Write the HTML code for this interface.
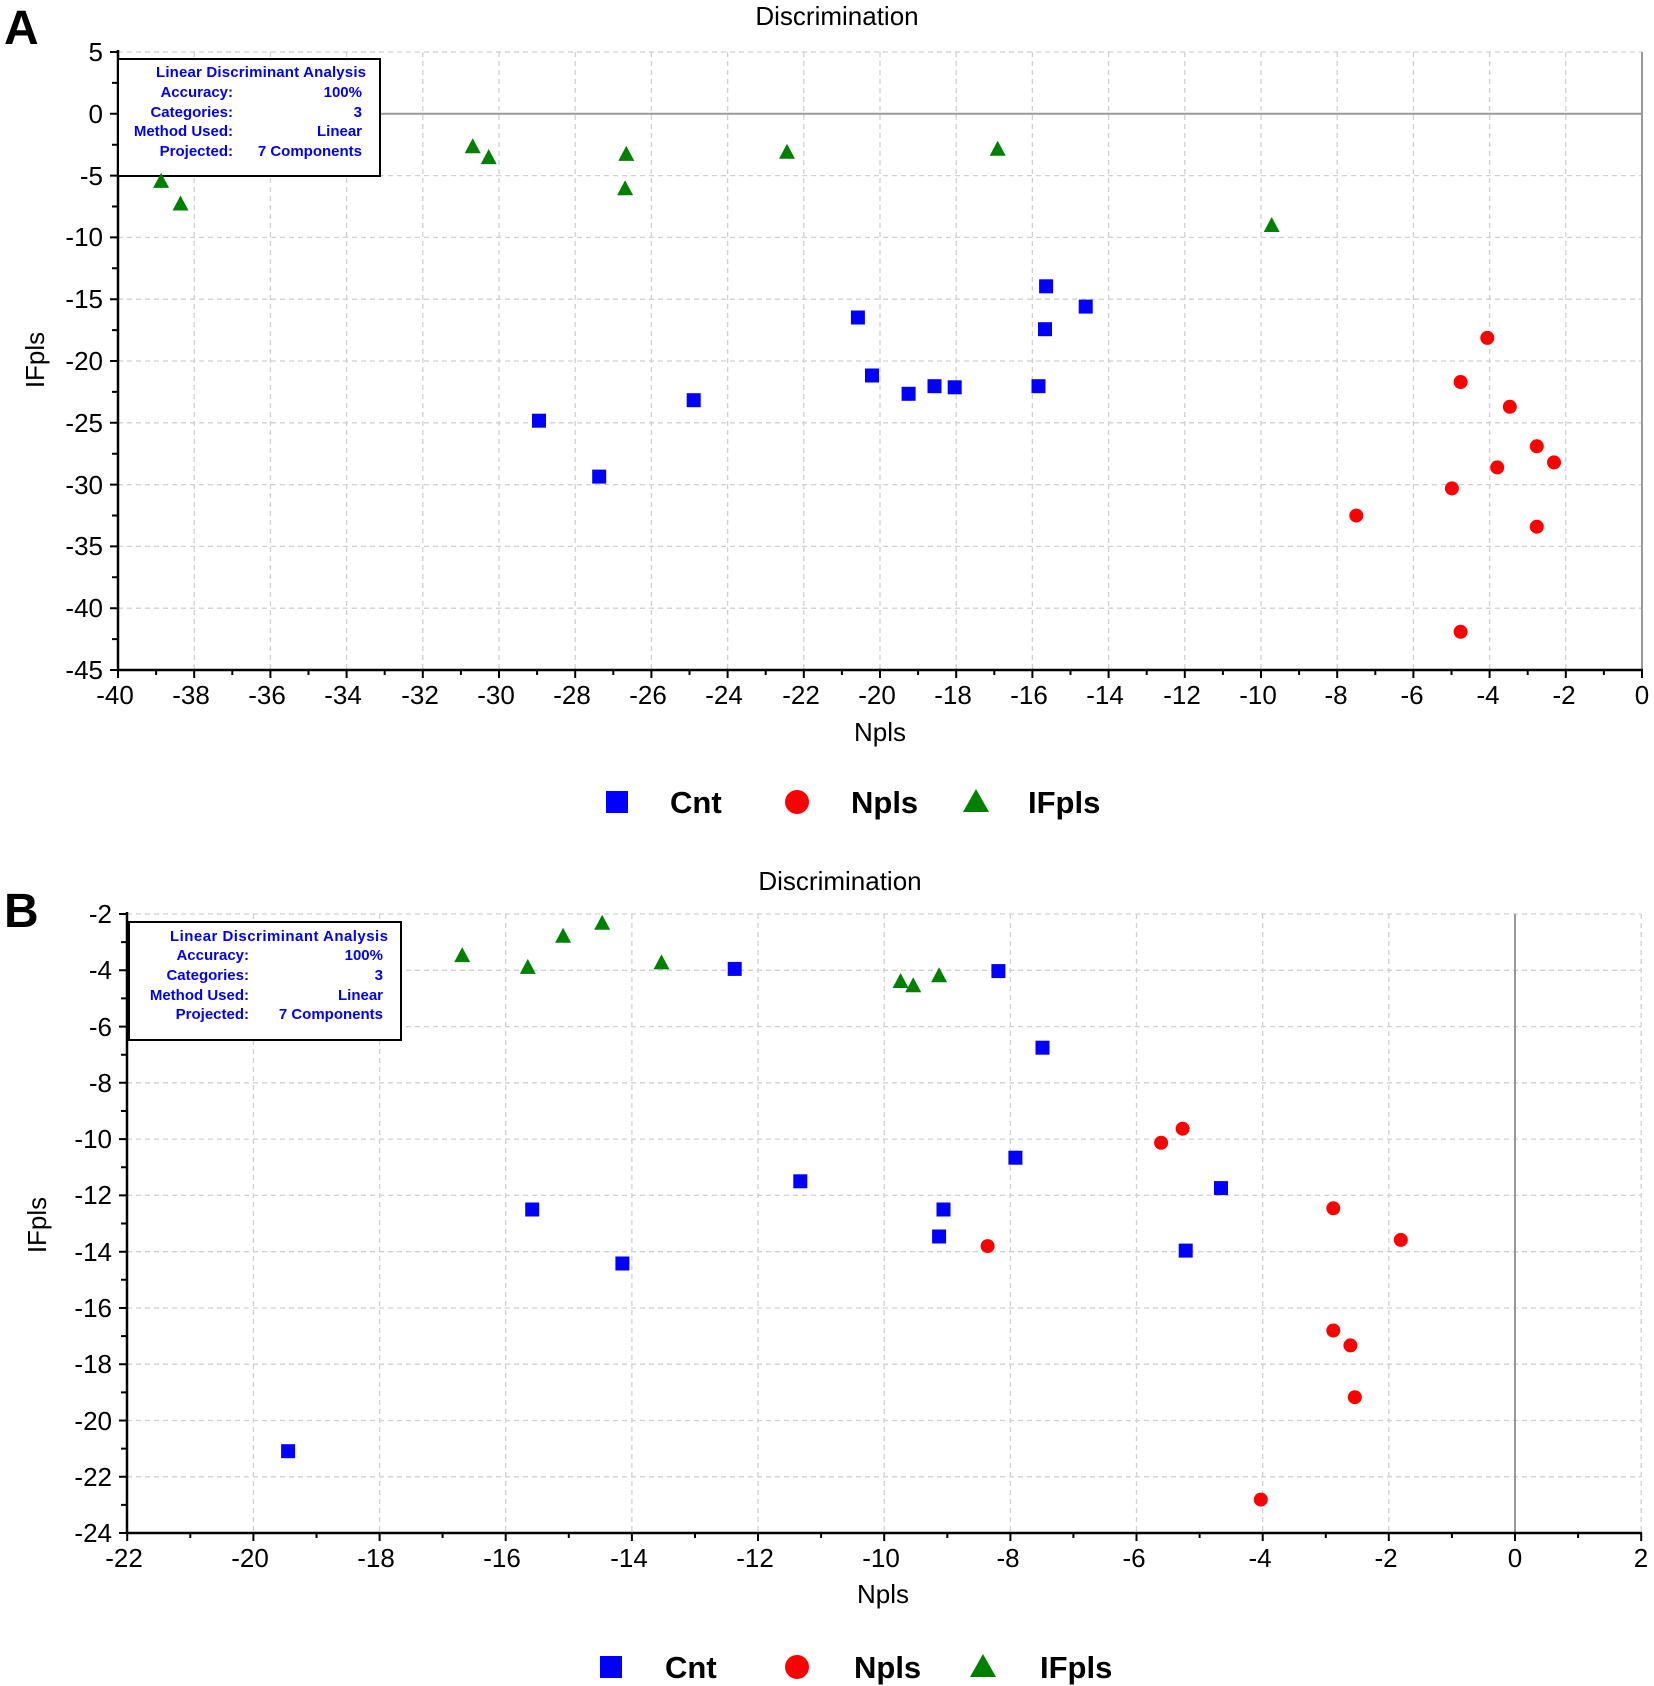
<!DOCTYPE html>
<html><head><meta charset="utf-8"><style>body{margin:0;background:#fff}svg{display:block}</style></head>
<body>
<svg width="1654" height="1686" viewBox="0 0 1654 1686" xmlns="http://www.w3.org/2000/svg" font-family="Liberation Sans, Arial, sans-serif">
<defs>
<rect id="sq" x="-7" y="-7" width="14" height="14" fill="#0000ff"/>
<circle id="ci" r="7" fill="#ff0000"/>
<polygon id="tr" points="0,-8 8,7 -8,7" fill="#008000"/>
</defs>
<rect width="1654" height="1686" fill="#fff"/>

<!-- ============ PANEL A ============ -->
<text x="4" y="44" font-size="48" font-weight="bold">A</text>
<text x="837" y="25" font-size="26" text-anchor="middle">Discrimination</text>
<g stroke="#d0d0d0" stroke-width="1.3" stroke-dasharray="5,4">
<line x1="194.2" y1="52" x2="194.2" y2="670"/><line x1="270.4" y1="52" x2="270.4" y2="670"/><line x1="346.6" y1="52" x2="346.6" y2="670"/><line x1="422.8" y1="52" x2="422.8" y2="670"/><line x1="499" y1="52" x2="499" y2="670"/><line x1="575.2" y1="52" x2="575.2" y2="670"/><line x1="651.4" y1="52" x2="651.4" y2="670"/><line x1="727.6" y1="52" x2="727.6" y2="670"/><line x1="803.8" y1="52" x2="803.8" y2="670"/><line x1="880" y1="52" x2="880" y2="670"/><line x1="956.2" y1="52" x2="956.2" y2="670"/><line x1="1032.4" y1="52" x2="1032.4" y2="670"/><line x1="1108.6" y1="52" x2="1108.6" y2="670"/><line x1="1184.8" y1="52" x2="1184.8" y2="670"/><line x1="1261" y1="52" x2="1261" y2="670"/><line x1="1337.2" y1="52" x2="1337.2" y2="670"/><line x1="1413.4" y1="52" x2="1413.4" y2="670"/><line x1="1489.6" y1="52" x2="1489.6" y2="670"/><line x1="1565.8" y1="52" x2="1565.8" y2="670"/><line x1="1642" y1="52" x2="1642" y2="670"/>
<line x1="118" y1="52" x2="1642" y2="52"/><line x1="118" y1="175.6" x2="1642" y2="175.6"/><line x1="118" y1="237.4" x2="1642" y2="237.4"/><line x1="118" y1="299.2" x2="1642" y2="299.2"/><line x1="118" y1="361" x2="1642" y2="361"/><line x1="118" y1="422.8" x2="1642" y2="422.8"/><line x1="118" y1="484.6" x2="1642" y2="484.6"/><line x1="118" y1="546.4" x2="1642" y2="546.4"/><line x1="118" y1="608.2" x2="1642" y2="608.2"/>
</g>
<line x1="118" y1="113.8" x2="1642" y2="113.8" stroke="#999" stroke-width="2"/>
<line x1="1642" y1="52" x2="1642" y2="670" stroke="#999" stroke-width="2"/>
<g stroke="#000" stroke-width="2.5">
<line x1="118" y1="50" x2="118" y2="671"/><line x1="117" y1="670" x2="1643" y2="670"/>
</g>
<g stroke="#000" stroke-width="2">
<path d="M110,52h8M110,113.8h8M110,175.6h8M110,237.4h8M110,299.2h8M110,361h8M110,422.8h8M110,484.6h8M110,546.4h8M110,608.2h8M110,670h8"/>
<path d="M112,82.9h6M112,144.7h6M112,206.5h6M112,268.3h6M112,330.1h6M112,391.9h6M112,453.7h6M112,515.5h6M112,577.3h6M112,639.1h6"/>
<path d="M118,670v8M194.2,670v8M270.4,670v8M346.6,670v8M422.8,670v8M499,670v8M575.2,670v8M651.4,670v8M727.6,670v8M803.8,670v8M880,670v8M956.2,670v8M1032.4,670v8M1108.6,670v8M1184.8,670v8M1261,670v8M1337.2,670v8M1413.4,670v8M1489.6,670v8M1565.8,670v8M1642,670v8"/>
<path d="M156.1,670v5M232.3,670v5M308.5,670v5M384.7,670v5M460.9,670v5M537.1,670v5M613.3,670v5M689.5,670v5M765.7,670v5M841.9,670v5M918.1,670v5M994.3,670v5M1070.5,670v5M1146.7,670v5M1222.9,670v5M1299.1,670v5M1375.3,670v5M1451.5,670v5M1527.7,670v5M1603.9,670v5"/>
</g>
<g font-size="26" text-anchor="end">
<text x="103" y="61">5</text><text x="103" y="123">0</text><text x="103" y="185">-5</text><text x="103" y="246">-10</text><text x="103" y="308">-15</text><text x="103" y="370">-20</text><text x="103" y="432">-25</text><text x="103" y="494">-30</text><text x="103" y="555">-35</text><text x="103" y="617">-40</text><text x="103" y="679">-45</text>
</g>
<g font-size="26" text-anchor="middle">
<text x="115" y="704">-40</text><text x="191" y="704">-38</text><text x="267" y="704">-36</text><text x="343" y="704">-34</text><text x="420" y="704">-32</text><text x="496" y="704">-30</text><text x="572" y="704">-28</text><text x="648" y="704">-26</text><text x="724" y="704">-24</text><text x="801" y="704">-22</text><text x="877" y="704">-20</text><text x="953" y="704">-18</text><text x="1029" y="704">-16</text><text x="1105" y="704">-14</text><text x="1182" y="704">-12</text><text x="1258" y="704">-10</text><text x="1336" y="704">-8</text><text x="1412" y="704">-6</text><text x="1488" y="704">-4</text><text x="1564" y="704">-2</text><text x="1642" y="704">0</text>
<text x="880" y="741">Npls</text>
</g>
<text transform="translate(44,360) rotate(-90)" font-size="26" text-anchor="middle">IFpls</text>
<!-- info box A -->
<rect x="118" y="59" width="262" height="117" fill="#fff" stroke="#000" stroke-width="2"/>
<g font-size="15" font-weight="bold" fill="#0000ff">
<text x="366" y="77" text-anchor="end" textLength="210">Linear Discriminant Analysis</text>
<g text-anchor="end"><text x="233" y="97">Accuracy:</text><text x="233" y="117">Categories:</text><text x="233" y="136">Method Used:</text><text x="233" y="156">Projected:</text>
<text x="362" y="97">100%</text><text x="362" y="117">3</text><text x="362" y="136">Linear</text><text x="362" y="156">7 Components</text></g>
</g>
<!-- points A -->
<use href="#tr" x="161.1" y="180.9"/><use href="#tr" x="180.5" y="203.5"/><use href="#tr" x="472.7" y="146.3"/><use href="#tr" x="488.7" y="157.1"/><use href="#tr" x="626.3" y="153.9"/><use href="#tr" x="625.1" y="188.3"/><use href="#tr" x="787" y="151.8"/><use href="#tr" x="997.7" y="148.8"/><use href="#tr" x="1271.7" y="225"/>
<use href="#sq" x="539" y="420.7"/><use href="#sq" x="599.2" y="476.6"/><use href="#sq" x="693.7" y="400.2"/><use href="#sq" x="857.9" y="317.5"/><use href="#sq" x="872" y="375.5"/><use href="#sq" x="908.6" y="393.8"/><use href="#sq" x="934.5" y="386.2"/><use href="#sq" x="954.7" y="387.3"/><use href="#sq" x="1038.5" y="386.2"/><use href="#sq" x="1045" y="329.2"/><use href="#sq" x="1046.1" y="286.3"/><use href="#sq" x="1085.7" y="306.6"/>
<use href="#ci" x="1487.3" y="337.9"/><use href="#ci" x="1460.6" y="382"/><use href="#ci" x="1509.8" y="406.8"/><use href="#ci" x="1536.8" y="446.3"/><use href="#ci" x="1497.2" y="467.4"/><use href="#ci" x="1554" y="462.4"/><use href="#ci" x="1451.9" y="488.4"/><use href="#ci" x="1356.3" y="515.6"/><use href="#ci" x="1536.8" y="526.7"/><use href="#ci" x="1460.6" y="631.8"/>
<!-- legend A -->
<rect x="606" y="791" width="22" height="22" fill="#0000ff"/>
<circle cx="797" cy="802" r="12" fill="#ff0000"/>
<polygon points="976,789 989,812 963,812" fill="#008000"/>
<g font-size="31" font-weight="bold"><text x="670" y="813">Cnt</text><text x="851" y="813">Npls</text><text x="1028" y="813">IFpls</text></g>

<!-- ============ PANEL B ============ -->
<text x="4" y="927" font-size="48" font-weight="bold">B</text>
<text x="840" y="890" font-size="26" text-anchor="middle">Discrimination</text>
<g stroke="#d0d0d0" stroke-width="1.3" stroke-dasharray="5,4">
<line x1="253.4" y1="914" x2="253.4" y2="1533"/><line x1="379.6" y1="914" x2="379.6" y2="1533"/><line x1="505.7" y1="914" x2="505.7" y2="1533"/><line x1="631.9" y1="914" x2="631.9" y2="1533"/><line x1="758" y1="914" x2="758" y2="1533"/><line x1="884.2" y1="914" x2="884.2" y2="1533"/><line x1="1010.4" y1="914" x2="1010.4" y2="1533"/><line x1="1136.5" y1="914" x2="1136.5" y2="1533"/><line x1="1262.7" y1="914" x2="1262.7" y2="1533"/><line x1="1388.8" y1="914" x2="1388.8" y2="1533"/><line x1="1641.2" y1="914" x2="1641.2" y2="1533"/>
<line x1="127" y1="914" x2="1641" y2="914"/><line x1="127" y1="970.3" x2="1641" y2="970.3"/><line x1="127" y1="1026.6" x2="1641" y2="1026.6"/><line x1="127" y1="1082.8" x2="1641" y2="1082.8"/><line x1="127" y1="1139.1" x2="1641" y2="1139.1"/><line x1="127" y1="1195.4" x2="1641" y2="1195.4"/><line x1="127" y1="1251.7" x2="1641" y2="1251.7"/><line x1="127" y1="1308" x2="1641" y2="1308"/><line x1="127" y1="1364.2" x2="1641" y2="1364.2"/><line x1="127" y1="1420.5" x2="1641" y2="1420.5"/><line x1="127" y1="1476.8" x2="1641" y2="1476.8"/>
</g>
<line x1="1515" y1="914" x2="1515" y2="1533" stroke="#999" stroke-width="2"/>
<g stroke="#000" stroke-width="2.5">
<line x1="127" y1="912" x2="127" y2="1534"/><line x1="126" y1="1533" x2="1642" y2="1533"/>
</g>
<g stroke="#000" stroke-width="2">
<path d="M119,914h8M119,970.3h8M119,1026.6h8M119,1082.8h8M119,1139.1h8M119,1195.4h8M119,1251.7h8M119,1308h8M119,1364.2h8M119,1420.5h8M119,1476.8h8M119,1533h8"/>
<path d="M121,942.1h6M121,998.4h6M121,1054.7h6M121,1111h6M121,1167.2h6M121,1223.5h6M121,1279.8h6M121,1336.1h6M121,1392.4h6M121,1448.6h6M121,1504.9h6"/>
<path d="M127.2,1533v8M253.4,1533v8M379.6,1533v8M505.7,1533v8M631.9,1533v8M758,1533v8M884.2,1533v8M1010.4,1533v8M1136.5,1533v8M1262.7,1533v8M1388.8,1533v8M1515,1533v8M1641.2,1533v8"/>
<path d="M190.3,1533v5M316.5,1533v5M442.6,1533v5M568.8,1533v5M695,1533v5M821.1,1533v5M947.3,1533v5M1073.4,1533v5M1199.6,1533v5M1325.8,1533v5M1451.9,1533v5M1578.1,1533v5"/>
</g>
<g font-size="26" text-anchor="end">
<text x="112" y="923">-2</text><text x="112" y="979">-4</text><text x="112" y="1036">-6</text><text x="112" y="1092">-8</text><text x="112" y="1148">-10</text><text x="112" y="1204">-12</text><text x="112" y="1261">-14</text><text x="112" y="1317">-16</text><text x="112" y="1373">-18</text><text x="112" y="1430">-20</text><text x="112" y="1486">-22</text><text x="112" y="1542">-24</text>
</g>
<g font-size="26" text-anchor="middle">
<text x="124" y="1567">-22</text><text x="250" y="1567">-20</text><text x="376" y="1567">-18</text><text x="502" y="1567">-16</text><text x="629" y="1567">-14</text><text x="755" y="1567">-12</text><text x="881" y="1567">-10</text><text x="1008" y="1567">-8</text><text x="1134" y="1567">-6</text><text x="1260" y="1567">-4</text><text x="1386" y="1567">-2</text><text x="1515" y="1567">0</text><text x="1641" y="1567">2</text>
<text x="883" y="1603">Npls</text>
</g>
<text transform="translate(46,1225) rotate(-90)" font-size="26" text-anchor="middle">IFpls</text>
<!-- info box B -->
<rect x="129" y="922" width="272" height="118" fill="#fff" stroke="#000" stroke-width="2"/>
<g font-size="15" font-weight="bold" fill="#0000ff">
<text x="388" y="941" text-anchor="end" textLength="218">Linear Discriminant Analysis</text>
<g text-anchor="end"><text x="249" y="960">Accuracy:</text><text x="249" y="980">Categories:</text><text x="249" y="1000">Method Used:</text><text x="249" y="1019">Projected:</text>
<text x="383" y="960">100%</text><text x="383" y="980">3</text><text x="383" y="1000">Linear</text><text x="383" y="1019">7 Components</text></g>
</g>
<!-- points B -->
<use href="#tr" x="462.2" y="955.1"/><use href="#tr" x="527.8" y="966.9"/><use href="#tr" x="563.1" y="935.7"/><use href="#tr" x="602.2" y="922.7"/><use href="#tr" x="661.5" y="962.4"/><use href="#tr" x="900.6" y="981"/><use href="#tr" x="913.2" y="985.2"/><use href="#tr" x="939.1" y="975.3"/>
<use href="#sq" x="734.7" y="968.9"/><use href="#sq" x="998.4" y="971.1"/><use href="#sq" x="1042.5" y="1047.7"/><use href="#sq" x="1015.4" y="1157.7"/><use href="#sq" x="800.3" y="1181.3"/><use href="#sq" x="943.5" y="1209.5"/><use href="#sq" x="939.1" y="1236.5"/><use href="#sq" x="532.2" y="1209.5"/><use href="#sq" x="622.4" y="1263.5"/><use href="#sq" x="1221" y="1188.1"/><use href="#sq" x="1185.7" y="1250.6"/><use href="#sq" x="288.1" y="1451.2"/>
<use href="#ci" x="1161.1" y="1142.8"/><use href="#ci" x="1182.6" y="1128.7"/><use href="#ci" x="987.6" y="1246.1"/><use href="#ci" x="1333.3" y="1208.3"/><use href="#ci" x="1400.8" y="1239.9"/><use href="#ci" x="1333.3" y="1330.5"/><use href="#ci" x="1350.4" y="1345.4"/><use href="#ci" x="1354.8" y="1397.2"/><use href="#ci" x="1260.8" y="1499.6"/>
<!-- legend B -->
<rect x="600" y="1656" width="22" height="22" fill="#0000ff"/>
<circle cx="797" cy="1667" r="12" fill="#ff0000"/>
<polygon points="983,1654 996,1677 970,1677" fill="#008000"/>
<g font-size="31" font-weight="bold"><text x="665" y="1678">Cnt</text><text x="854" y="1678">Npls</text><text x="1040" y="1678">IFpls</text></g>
</svg>
</body></html>
